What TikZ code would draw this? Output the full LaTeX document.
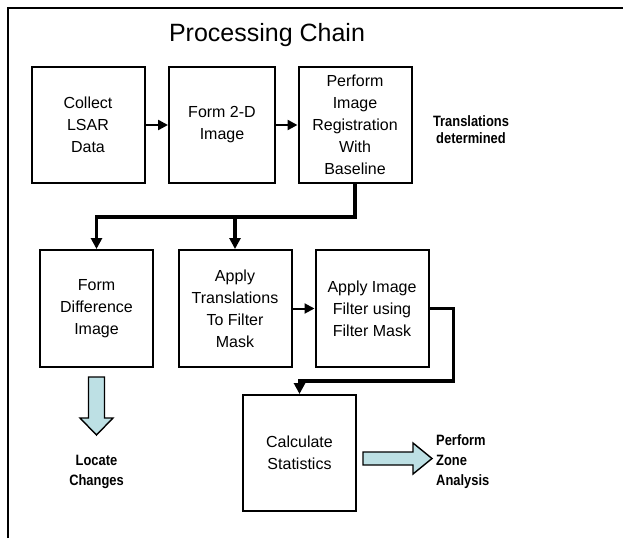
\documentclass[tikz,border=0pt]{standalone}
\usepackage{fontspec}
\setmainfont{Liberation Sans}
\newfontfamily\narrowbold[FakeStretch=0.86]{Liberation Sans Bold}
\usetikzlibrary{shapes,arrows,arrows.meta}
\definecolor{paleblue}{RGB}{189,224,228}
\tikzstyle{block} = [rectangle, draw, line width=2pt, text centered, align=center, inner sep=0, minimum width=113pt, minimum height=116pt, font=\fontsize{16}{22}\selectfont]
\tikzstyle{note} = [align=center, inner sep=0, font=\narrowbold\fontsize{15}{20}\selectfont]
\tikzstyle{line} = [draw, line width=2.4pt, -{Triangle[length=10pt,width=10pt]}]
\tikzstyle{thick_line} = [draw, line width=3.4pt, -{Triangle[length=11pt,width=11pt]}]
\tikzstyle{thin_line} = [draw, line width=2pt, -{Triangle[length=10pt,width=10pt]}]
\tikzstyle{fat_arrow} = [draw, line width=1.4pt, fill=paleblue, line join=miter]

\begin{document}
\begin{tikzpicture}[x=1pt,y=-1pt]
%[node distance = 1cm, auto]
\useasboundingbox (0,0) rectangle (623,538);
\draw [line width=2.2pt] (8,538) -- (8,8) -- (623,8);

\node [font=\fontsize{25}{30}\selectfont] (title) at (267,35) {Processing Chain};

\node [block] (collect) at (88,125) {Collect\\LSAR\\Data};
\node [block, right of=collect, minimum width=106pt, node distance=134pt] (form) {Form 2-D\\Image};
\node [block, right of=form, node distance=133pt] (register) {Perform\\Image\\Registration\\With\\Baseline};
\node [note, right of=register, node distance=116pt, yshift=-5pt, font=\narrowbold\fontsize{15}{17}\selectfont] (shifts) {Translations\\determined};

\node [block, below of=collect, node distance=183.5pt, xshift=8.5pt, minimum height=117pt] (diff) {Form\\Difference\\Image};
\node [block, right of=diff, node distance=138.5pt, minimum height=117pt] (translate) {Apply\\Translations\\To Filter\\Mask};
\node [block, right of=translate, node distance=137pt, minimum height=117pt] (filter) {Apply Image\\Filter using\\Filter Mask};
\node [block, below of=translate, node distance=144.5pt, xshift=64.5pt] (stats) {Calculate\\Statistics};

\coordinate [below of=register, node distance=92pt] (fork);
\coordinate [above of=stats, node distance=72pt] (turn);
\coordinate [below of=diff, node distance=68.5pt] (dropstart);
\coordinate [right of=stats, node distance=63.5pt, yshift=-5.5pt] (pushstart);

\path [line] (collect) -- (form);
\path [line] (form) -- (register);
\path [thick_line] (register.south) -- (fork) -| (diff.north);
\path [thick_line] (fork) -| (translate.north);
\path [thin_line] (translate) -- (filter);
\path [thick_line] (filter.east) -- ++(24,0) |- (turn) -- (stats.north);

\draw [fat_arrow] (dropstart) ++(-8,0) -- ++(16,0) -- ++(0,41) -- ++(8.5,0) -- ++(-16.5,17) -- ++(-16.5,-17) -- ++(8.5,0) -- cycle;
\draw [fat_arrow] (pushstart) ++(0,-6.5) -- ++(50,0) -- ++(0,-9) -- ++(19,15.5) -- ++(-19,15.5) -- ++(0,-9) -- ++(-50,0) -- cycle;

\node [note, below of=dropstart, node distance=95pt] (locate) {Locate\\Changes};
\node [note, right of=pushstart, node distance=73pt, yshift=-3.5pt, anchor=west, align=left] (zone) {Perform\\Zone\\Analysis};

\end{tikzpicture}
\end{document}
